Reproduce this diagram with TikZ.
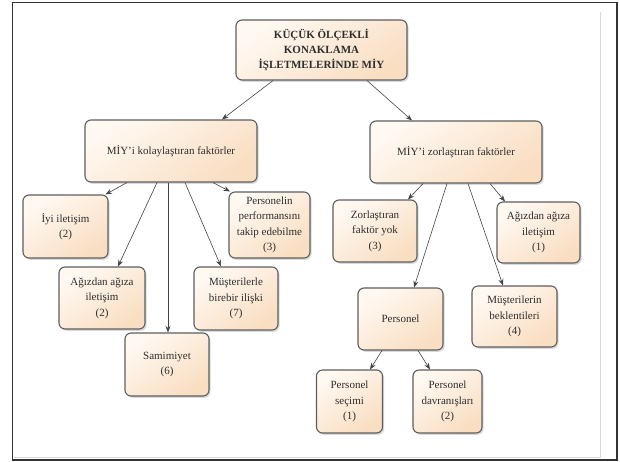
\documentclass[tikz,border=0pt]{standalone}
\usepackage{fontspec}
\setmainfont{Liberation Serif}
\usetikzlibrary{arrows.meta,shadows}
\definecolor{boxlight}{HTML}{FFF9F2}
\definecolor{boxdark}{HTML}{F9DEC2}
\definecolor{boxline}{HTML}{5E5E5E}
\definecolor{txt}{HTML}{2E2E2E}
\definecolor{wire}{HTML}{444444}
\begin{document}
\begin{tikzpicture}[x=1pt,y=-1pt,
  box/.style={draw=boxline, line width=1.1pt, rounded corners=6pt,
    top color=boxlight, bottom color=boxdark, shading angle=35,
    drop shadow={shadow xshift=1.6pt, shadow yshift=-1.8pt, opacity=0.25, fill=black!60},
    align=center, text=txt, inner sep=2pt,
    font=\fontsize{11}{15.5}\selectfont},
  link/.style={draw=wire, line width=0.6pt, -{Stealth[length=6.5pt,width=5pt]}}]
\useasboundingbox (0,0) rectangle (620,461);
% outer frame
\draw[white!85!black, line width=0.7pt] (600.5,12) -- (600.5,457) -- (14,457);
\draw[black!80, line width=1.8pt] (12.5,2.5) rectangle (617,460);

% boxes
\node[box, minimum width=171pt, minimum height=60pt,
      font=\bfseries\fontsize{11}{15}\selectfont] (root) at (321.5,50)
  {KÜÇÜK ÖLÇEKLİ\\KONAKLAMA\\İŞLETMELERİNDE MİY};
\node[box, minimum width=172pt, minimum height=62pt] (lm) at (171,151) {MİY’i kolaylaştıran faktörler};
\node[box, minimum width=172pt, minimum height=62pt] (rm) at (456,152) {MİY’i zorlaştıran faktörler};

\node[box, minimum width=85pt, minimum height=63pt] (iyi) at (65.5,226.5) {İyi iletişim\\(2)};
\node[box, minimum width=81pt, minimum height=66pt] (perf) at (269.5,225) {Personelin\\performansını\\takip edebilme\\(3)};
\node[box, minimum width=86pt, minimum height=62pt] (agl) at (102,298) {Ağızdan ağıza\\iletişim\\(2)};
\node[box, minimum width=84pt, minimum height=63pt] (mus) at (236,298.5) {Müşterilerle\\birebir ilişki\\(7)};
\node[box, minimum width=84pt, minimum height=63pt] (sam) at (167,364.5) {Samimiyet\\(6)};

\node[box, minimum width=84pt, minimum height=62pt] (zor) at (375,231) {Zorlaştıran\\faktör yok\\(3)};
\node[box, minimum width=83pt, minimum height=61pt] (agr) at (538.5,232.5) {Ağızdan ağıza\\iletişim\\(1)};
\node[box, minimum width=85pt, minimum height=62pt] (per) at (400.5,319) {Personel};
\node[box, minimum width=85pt, minimum height=61pt] (mub) at (514.5,316.5) {Müşterilerin\\beklentileri\\(4)};
\node[box, minimum width=66pt, minimum height=63pt] (sec) at (349.5,401.5) {Personel\\seçimi\\(1)};
\node[box, minimum width=69pt, minimum height=63pt] (dav) at (447.5,401.5) {Personel\\davranışları\\(2)};

% connectors
\draw[link] ([xshift=-48.5pt]root.south) -- ([xshift=51pt]lm.north);
\draw[link] ([xshift=45.5pt]root.south) -- ([xshift=-44pt]rm.north);

\draw[link] ([xshift=-44pt]lm.south) -- ([xshift=40pt]iyi.north);
\draw[link] ([xshift=-14pt]lm.south) -- ([xshift=16pt]agl.north);
\draw[link] ([xshift=-3pt]lm.south) -- ([xshift=1pt]sam.north);
\draw[link] ([xshift=14pt]lm.south) -- ([xshift=-15pt]mus.north);
\draw[link] ([xshift=42pt]lm.south) -- ([xshift=-39.5pt]perf.north);

\draw[link] ([xshift=-33pt]rm.south) -- ([xshift=33pt]zor.north);
\draw[link] ([xshift=-9pt]rm.south) -- ([xshift=13.5pt]per.north);
\draw[link] ([xshift=12pt]rm.south) -- ([xshift=-11.5pt]mub.north);
\draw[link] ([xshift=34pt]rm.south) -- ([xshift=-33.5pt]agr.north);

\draw[link] ([xshift=-18.5pt]per.south) -- ([xshift=20.5pt]sec.north);
\draw[link] ([xshift=17.5pt]per.south) -- ([xshift=-17.5pt]dav.north);
\end{tikzpicture}
\end{document}
